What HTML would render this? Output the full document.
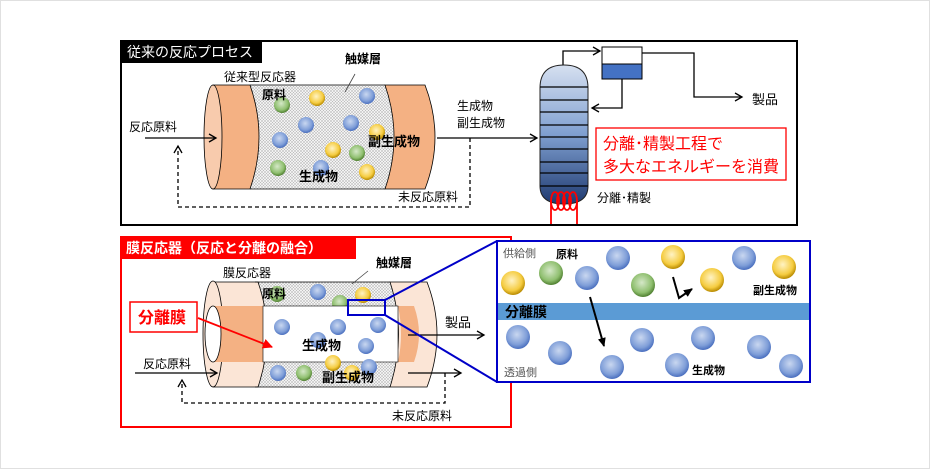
<!DOCTYPE html>
<html><head><meta charset="utf-8"><style>
html,body{margin:0;padding:0;background:#fff}
svg{display:block}
text{font-family:"Liberation Sans","Noto Sans CJK JP",sans-serif}
</style></head><body>
<svg width="930" height="469" viewBox="0 0 930 469" xmlns="http://www.w3.org/2000/svg">
<defs>
<pattern id="dots" width="3" height="3" patternUnits="userSpaceOnUse">
<rect width="3" height="3" fill="#f2f2f2"/><circle cx="1" cy="1" r="0.6" fill="#888"/><circle cx="2.5" cy="2.5" r="0.5" fill="#aaa"/>
</pattern>
<radialGradient id="gb" cx="45%" cy="40%" r="60%"><stop offset="0" stop-color="#c9d7f0"/><stop offset="0.7" stop-color="#7f9ed8"/><stop offset="1" stop-color="#4a6fbf"/></radialGradient>
<radialGradient id="gg" cx="45%" cy="40%" r="60%"><stop offset="0" stop-color="#d5e8c8"/><stop offset="0.7" stop-color="#8fbf6f"/><stop offset="1" stop-color="#4f7f30"/></radialGradient>
<radialGradient id="gy" cx="45%" cy="40%" r="60%"><stop offset="0" stop-color="#fff3c4"/><stop offset="0.7" stop-color="#f5cc40"/><stop offset="1" stop-color="#b88a00"/></radialGradient>
<linearGradient id="col" x1="0" y1="0" x2="0" y2="1"><stop offset="0" stop-color="#d6e0f0"/><stop offset="0.5" stop-color="#7f9fd0"/><stop offset="1" stop-color="#1f3a70"/></linearGradient>
<marker id="ar" markerWidth="10" markerHeight="10" refX="8" refY="5" orient="auto" markerUnits="userSpaceOnUse"><path d="M1,1 L8,5 L1,9" fill="none" stroke="#000" stroke-width="1.3"/></marker>
<marker id="arr" markerWidth="12" markerHeight="12" refX="9" refY="6" orient="auto" markerUnits="userSpaceOnUse"><path d="M0,1 L10,6 L0,11Z" fill="#f00"/></marker>
<marker id="arf" markerWidth="10" markerHeight="10" refX="8" refY="5" orient="auto" markerUnits="userSpaceOnUse"><path d="M0,1 L9,5 L0,9Z" fill="#000"/></marker>
</defs>
<rect x="0.5" y="0.5" width="929" height="468" fill="#fff" stroke="#e0e0e0"/>

<!-- TOP PANEL -->
<rect x="121" y="41" width="676" height="184" fill="none" stroke="#000" stroke-width="2"/>
<rect x="120" y="40" width="142" height="23" fill="#000"/>
<text x="127" y="57" font-size="14" fill="#fff">従来の反応プロセス</text>

<rect x="250" y="85" width="145" height="104" fill="url(#dots)"/>
<path d="M213,85 L250,85 Q268,137 250,189 L213,189 Z" fill="#f4b183" stroke="#000" stroke-width="0.8"/>
<ellipse cx="213" cy="137" rx="9" ry="52" fill="#f8cbad" stroke="#000" stroke-width="0.8"/>
<path d="M385,85 L425,85 Q445,137 425,189 L385,189 Q403,137 385,85Z" fill="#f4b183" stroke="#000" stroke-width="0.8"/>
<line x1="250" y1="85" x2="385" y2="85" stroke="#000" stroke-width="0.8"/>
<line x1="250" y1="189" x2="385" y2="189" stroke="#000" stroke-width="0.8"/>
<g>
<circle cx="282" cy="105" r="8" fill="url(#gg)"/><circle cx="317" cy="98" r="8" fill="url(#gy)"/><circle cx="367" cy="96" r="8" fill="url(#gb)"/>
<circle cx="306" cy="125" r="8" fill="url(#gb)"/><circle cx="351" cy="123" r="8" fill="url(#gb)"/><circle cx="377" cy="132" r="8" fill="url(#gy)"/>
<circle cx="280" cy="140" r="8" fill="url(#gb)"/><circle cx="333" cy="150" r="8" fill="url(#gy)"/><circle cx="357" cy="153" r="8" fill="url(#gg)"/>
<circle cx="278" cy="168" r="8" fill="url(#gg)"/><circle cx="321" cy="168" r="8" fill="url(#gb)"/><circle cx="367" cy="172" r="8" fill="url(#gy)"/>
</g>
<text x="262" y="99" font-size="12" font-weight="bold">原料</text>
<text x="368" y="146" font-size="13" font-weight="bold">副生成物</text>
<text x="299" y="181" font-size="13" font-weight="bold">生成物</text>
<text x="224" y="81" font-size="12">従来型反応器</text>
<text x="345" y="63" font-size="12" font-weight="bold">触媒層</text>
<line x1="355" y1="74" x2="345" y2="92" stroke="#444" stroke-width="0.8"/>
<text x="129" y="131" font-size="12">反応原料</text>
<line x1="145" y1="138" x2="216" y2="138" stroke="#000" stroke-width="1.3" marker-end="url(#ar)"/>
<line x1="437" y1="138" x2="537" y2="138" stroke="#000" stroke-width="1.3" marker-end="url(#ar)"/>
<text x="457" y="110" font-size="12">生成物</text>
<text x="457" y="127" font-size="12">副生成物</text>
<path d="M470,138 L470,207 L178,207 L178,146" fill="none" stroke="#000" stroke-width="1.3" stroke-dasharray="4,3" marker-end="url(#ar)"/>
<text x="398" y="201" font-size="12">未反応原料</text>

<path d="M563,65 L563,51 L600,51" fill="none" stroke="#000" stroke-width="1.3" marker-end="url(#ar)"/>
<path d="M540,88 Q540,65 564,65 Q588,65 588,88 L588,186 Q588,204 564,204 Q540,204 540,186 Z" fill="url(#col)" stroke="#222" stroke-width="1"/>
<g stroke="#000" stroke-width="1.2">
<line x1="540" y1="87" x2="588" y2="87"/><line x1="540" y1="100" x2="588" y2="100"/><line x1="540" y1="112" x2="588" y2="112"/>
<line x1="540" y1="125" x2="588" y2="125"/><line x1="540" y1="137" x2="588" y2="137"/><line x1="540" y1="149" x2="588" y2="149"/>
<line x1="540" y1="162" x2="588" y2="162"/><line x1="540" y1="173" x2="588" y2="173"/><line x1="540" y1="186" x2="588" y2="186"/>
</g>
<g fill="none" stroke="#f00" stroke-width="1.8">
<line x1="551" y1="200" x2="551" y2="224"/><line x1="577" y1="200" x2="577" y2="224"/>
<ellipse cx="555" cy="201" rx="4" ry="9"/><ellipse cx="561" cy="201" rx="4" ry="9"/><ellipse cx="567" cy="201" rx="4" ry="9"/><ellipse cx="573" cy="201" rx="4" ry="9"/>
</g>
<rect x="602" y="47" width="40" height="17" fill="#fff" stroke="#000" stroke-width="1"/>
<rect x="602" y="64" width="40" height="15" fill="#4472c4" stroke="#000" stroke-width="1"/>
<path d="M642,53 L694,53 L694,97 L742,97" fill="none" stroke="#000" stroke-width="1.3" marker-end="url(#ar)"/>
<path d="M622,79 L622,108 L592,108" fill="none" stroke="#000" stroke-width="1.3" marker-end="url(#ar)"/>
<text x="752" y="104" font-size="13">製品</text>
<rect x="596" y="128" width="190" height="52" fill="#fff" stroke="#f00" stroke-width="1.3"/>
<text x="603" y="149" font-size="16" fill="#f00">分離･精製工程で</text>
<text x="603" y="172" font-size="16" fill="#f00">多大なエネルギーを消費</text>
<text x="597" y="202" font-size="12">分離･精製</text>

<!-- BOTTOM PANEL -->
<rect x="121" y="237" width="390" height="190" fill="none" stroke="#f00" stroke-width="2"/>
<rect x="120" y="236" width="236" height="23" fill="#f00"/>
<text x="126" y="253" font-size="14" fill="#fff" font-weight="bold">膜反応器（反応と分離の融合）</text>

<rect x="255" y="282" width="140" height="105" fill="url(#dots)"/>
<path d="M213,282 L258,282 Q276,334 258,387 L213,387 Z" fill="#fbe5d6" stroke="#000" stroke-width="0.8"/>
<ellipse cx="213" cy="334" rx="10" ry="53" fill="#fbe5d6" stroke="#000" stroke-width="0.8"/>
<path d="M213,306 L265,306 L265,362 L213,362 Z" fill="#f4b183"/>
<ellipse cx="213" cy="334" rx="8" ry="28" fill="#fff" stroke="#000" stroke-width="0.8"/>
<path d="M390,282 L427,282 Q447,334 427,387 L390,387 Q407,334 390,282Z" fill="#fbe5d6" stroke="#000" stroke-width="0.8"/>
<path d="M398,306 L414,306 Q424,334 414,362 L398,362 Q404,334 398,306Z" fill="#f4b183"/>
<line x1="255" y1="282" x2="390" y2="282" stroke="#000" stroke-width="0.8"/>
<line x1="255" y1="387" x2="390" y2="387" stroke="#000" stroke-width="0.8"/>
<g>
<circle cx="277" cy="294" r="8" fill="url(#gg)"/><circle cx="318" cy="292" r="8" fill="url(#gb)"/><circle cx="363" cy="295" r="8" fill="url(#gy)"/><circle cx="340" cy="303" r="8" fill="url(#gg)"/>
<rect x="263" y="306" width="135" height="56" fill="#fff" stroke="#000" stroke-width="0.6"/>
<circle cx="282" cy="327" r="8" fill="url(#gb)"/><circle cx="338" cy="327" r="8" fill="url(#gb)"/><circle cx="378" cy="325" r="8" fill="url(#gb)"/>
<circle cx="366" cy="346" r="8" fill="url(#gb)"/><circle cx="318" cy="340" r="8" fill="url(#gb)"/>
<circle cx="333" cy="363" r="8" fill="url(#gy)"/><circle cx="369" cy="367" r="8" fill="url(#gb)"/>
<circle cx="278" cy="373" r="8" fill="url(#gb)"/><circle cx="304" cy="373" r="8" fill="url(#gg)"/><circle cx="352" cy="373" r="8" fill="url(#gy)"/>
</g>
<text x="262" y="298" font-size="12" font-weight="bold">原料</text>
<text x="302" y="350" font-size="13" font-weight="bold">生成物</text>
<text x="322" y="382" font-size="13" font-weight="bold">副生成物</text>
<text x="223" y="277" font-size="12">膜反応器</text>
<text x="376" y="267" font-size="12" font-weight="bold">触媒層</text>
<line x1="368" y1="271" x2="352" y2="284" stroke="#444" stroke-width="0.8"/>
<rect x="130" y="302" width="67" height="30" fill="#fff" stroke="#f00" stroke-width="1.5"/>
<text x="138" y="323" font-size="16" fill="#f00" font-weight="bold">分離膜</text>
<line x1="198" y1="318" x2="272" y2="347" stroke="#f00" stroke-width="1.8" marker-end="url(#arr)"/>
<text x="143" y="368" font-size="12">反応原料</text>
<line x1="135" y1="373" x2="217" y2="373" stroke="#000" stroke-width="1.3" marker-end="url(#ar)"/>
<text x="445" y="327" font-size="13">製品</text>
<line x1="408" y1="335" x2="484" y2="335" stroke="#000" stroke-width="1.3" marker-end="url(#ar)"/>
<line x1="408" y1="373" x2="461" y2="373" stroke="#000" stroke-width="1.3" marker-end="url(#ar)"/>
<path d="M445,373 L445,403 L182,403 L182,380" fill="none" stroke="#000" stroke-width="1.3" stroke-dasharray="4,3" marker-end="url(#ar)"/>
<text x="392" y="420" font-size="12">未反応原料</text>

<rect x="348" y="300" width="37" height="15" fill="none" stroke="#0000c8" stroke-width="2"/>
<line x1="385" y1="300" x2="497" y2="241" stroke="#0000c8" stroke-width="2"/>
<line x1="385" y1="315" x2="497" y2="382" stroke="#0000c8" stroke-width="2"/>
<rect x="497" y="241" width="313" height="141" fill="#fff" stroke="#0000c8" stroke-width="2"/>
<rect x="498" y="303" width="311" height="17" fill="#5b9bd5"/>
<text x="505" y="317" font-size="14" font-weight="bold">分離膜</text>
<g>
<circle cx="513" cy="283" r="12" fill="url(#gy)"/><circle cx="551" cy="273" r="12" fill="url(#gg)"/><circle cx="587" cy="278" r="12" fill="url(#gb)"/>
<circle cx="618" cy="258" r="12" fill="url(#gb)"/><circle cx="643" cy="285" r="12" fill="url(#gg)"/><circle cx="673" cy="257" r="12" fill="url(#gy)"/>
<circle cx="712" cy="280" r="12" fill="url(#gy)"/><circle cx="744" cy="258" r="12" fill="url(#gb)"/><circle cx="784" cy="267" r="12" fill="url(#gy)"/>
<circle cx="518" cy="337" r="12" fill="url(#gb)"/><circle cx="560" cy="353" r="12" fill="url(#gb)"/><circle cx="612" cy="367" r="12" fill="url(#gb)"/>
<circle cx="642" cy="340" r="12" fill="url(#gb)"/><circle cx="677" cy="365" r="12" fill="url(#gb)"/><circle cx="703" cy="338" r="12" fill="url(#gb)"/>
<circle cx="759" cy="347" r="12" fill="url(#gb)"/><circle cx="791" cy="366" r="12" fill="url(#gb)"/>
</g>
<text x="503" y="257" font-size="11" fill="#555">供給側</text>
<text x="556" y="258" font-size="11" font-weight="bold">原料</text>
<text x="753" y="294" font-size="11" font-weight="bold">副生成物</text>
<text x="504" y="376" font-size="11" fill="#555">透過側</text>
<text x="692" y="374" font-size="11" font-weight="bold">生成物</text>
<line x1="590" y1="297" x2="604" y2="346" stroke="#000" stroke-width="2" marker-end="url(#arf)"/>
<path d="M673,277 L679,298 L692,289" fill="none" stroke="#000" stroke-width="2" marker-end="url(#arf)"/>
</svg>
</body></html>
